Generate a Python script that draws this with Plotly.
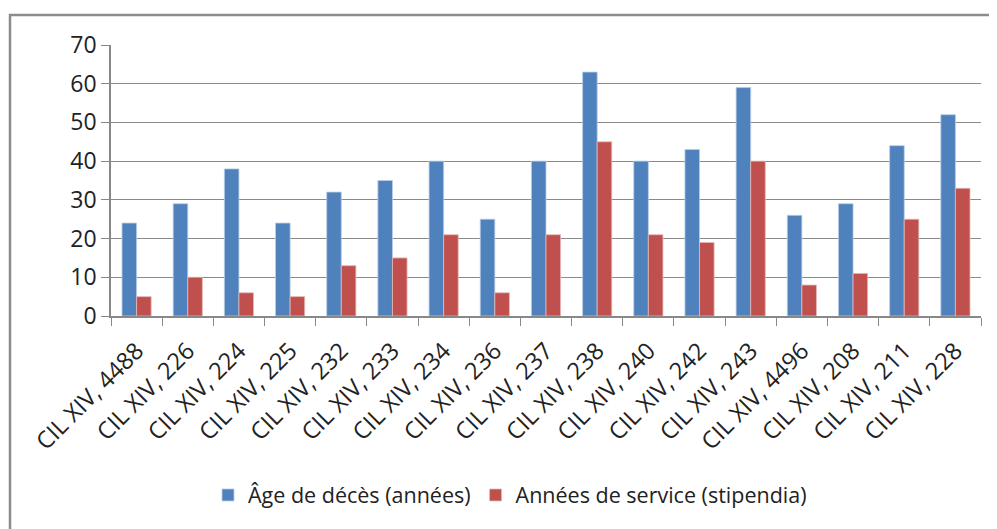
import plotly.graph_objects as go

categories = ["CIL XIV, 4488", "CIL XIV, 226", "CIL XIV, 224", "CIL XIV, 225", "CIL XIV, 232",
              "CIL XIV, 233", "CIL XIV, 234", "CIL XIV, 236", "CIL XIV, 237", "CIL XIV, 238",
              "CIL XIV, 240", "CIL XIV, 242", "CIL XIV, 243", "CIL XIV, 4496", "CIL XIV, 208",
              "CIL XIV, 211", "CIL XIV, 228"]
age_deces = [24, 29, 38, 24, 32, 35, 40, 25, 40, 63, 40, 43, 59, 26, 29, 44, 52]
annees_service = [5, 10, 6, 5, 13, 15, 21, 6, 21, 45, 21, 19, 40, 8, 11, 25, 33]
y_ticks = [0, 10, 20, 30, 40, 50, 60, 70]

FONT = "Open Sans"
OFF = 8  # page body margin
W, H = 997 - OFF, 529 - OFF
# plot area in screen pixels: x 111..981, y 45..316
L = 111 - OFF
T = 45 - OFF
R = W - (981 - OFF)
B = H - (316 - OFF)
pw = W - L - R
ph = H - T - B

def px_x(x):
    return (x - OFF - L) / pw

def px_y(y):
    return (316 - y) / ph

fig = go.Figure()
fig.add_trace(go.Bar(x=categories, y=age_deces, name="Âge de décès (années)",
                     marker=dict(color="#4F81BD", line=dict(color="#B9CDE5", width=0.8))))
fig.add_trace(go.Bar(x=categories, y=annees_service, name="Années de service (stipendia)",
                     marker=dict(color="#C0504D", line=dict(color="#E6B9B8", width=0.8))))

fig.update_layout(
    width=W, height=H,
    margin=dict(l=L, r=R, t=T, b=B, pad=0, autoexpand=False),
    plot_bgcolor="white", paper_bgcolor="white",
    barmode="group", bargap=0.43, bargroupgap=0,
    font=dict(family=FONT, color="#222222"),
    legend=dict(orientation="h", x=px_x(510), y=px_y(495), xanchor="center", yanchor="middle",
                font=dict(size=21.5, family=FONT, color="#222222"), itemwidth=30,
                traceorder="normal"),
    xaxis=dict(type="category", tickangle=-45, automargin=False, ticklabelstandoff=10,
               tickfont=dict(size=23.5, family=FONT, color="#222222"),
               showline=True, linecolor="#888888", linewidth=1.5,
               ticks="outside", ticklen=8, tickcolor="#888888", tickson="boundaries",
               showgrid=False),
    yaxis=dict(range=[0, 70], tickvals=y_ticks, automargin=False,
               tickfont=dict(size=23, family=FONT, color="#222222"),
               showline=True, linecolor="#888888", linewidth=1.5,
               ticks="outside", ticklen=8, tickcolor="#888888",
               showgrid=True, gridcolor="#8a8a8a", gridwidth=1.2, zeroline=False),
    shapes=[dict(type="rect", xref="paper", yref="paper",
                 x0=px_x(10), x1=px_x(1005), y0=px_y(545), y1=px_y(15),
                 line=dict(color="#8c8c8c", width=2.5), fillcolor="rgba(0,0,0,0)", layer="below")],
)

fig.write_html("out.html")
